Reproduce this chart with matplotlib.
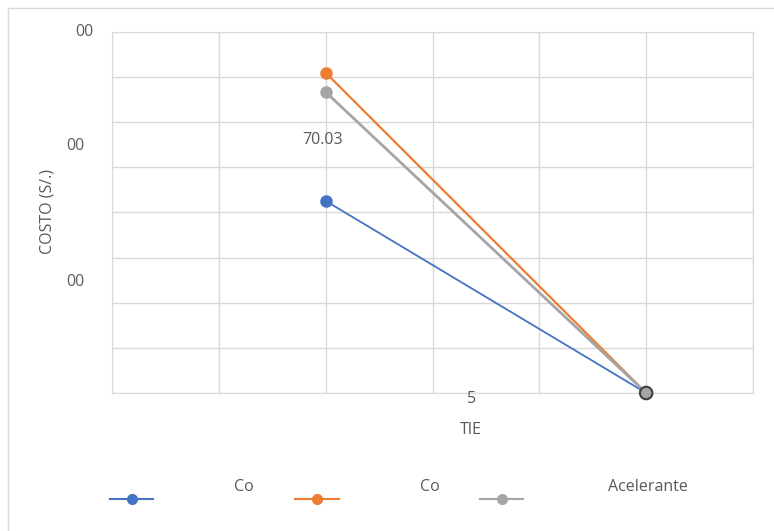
import matplotlib.pyplot as plt
import matplotlib.patheffects as pe
from matplotlib.lines import Line2D
import numpy as np

plt.rcParams['font.family'] = ['Open Sans', 'DejaVu Sans']

# data
x_pos = [2, 5]
serie_1 = [42.0, 0.0]
serie_2 = [70.03, 0.0]
serie_3 = [65.8, 0.0]
colors = ['#4472C4', '#ED7D31', '#A5A5A5']
names = ['Co', 'Co', 'Acelerante']
y_ticklabels = ['00', '00', '00']

W, H = 774, 531
fig = plt.figure(figsize=(W / 100, H / 100), dpi=100)


def px(x, y):
    return x / W, 1 - y / H


ax = fig.add_axes([112 / W, 1 - 393 / H, 641 / W, 361.3 / H])
ax.set_xlim(0, 6)
ax.set_ylim(0, 79)
ax.set_xticks(np.arange(0, 7))
ax.set_yticks(np.linspace(0, 79, 9))
ax.grid(True, color='#D9D9D9', lw=1)
ax.tick_params(length=0, labelbottom=False, labelleft=False)
for s in ax.spines.values():
    s.set_color('#D9D9D9')
ax.set_axisbelow(True)

txt = '#595959'
fs = 11.5
widths = [1.3, 1.6, 2.0]
for ys, c, lw, z in zip([serie_1, serie_2, serie_3], colors, widths, [3, 4, 5]):
    ax.plot(x_pos, ys, color=c, lw=lw, marker='o', ms=8, mfc=c,
            mec=c, mew=1, zorder=z, clip_on=False)
# shared end point
ax.plot([x_pos[1]], [0], marker='o', ms=9, mfc='#A5A5A5', mec='#404040',
        mew=1.5, zorder=6, clip_on=False,
        path_effects=[pe.withSimplePatchShadow(offset=(0, 0), shadow_rgbFace='black', alpha=0.4)])

# value label
fig.text(*px(323, 140), '70.03', ha='center', va='center', fontsize=fs, color=txt)

# axis texts
for (tx, ty), lab in zip([(84, 32), (75, 146), (75, 282)], y_ticklabels):
    fig.text(*px(tx, ty), lab, ha='center', va='center', fontsize=fs, color=txt)
fig.text(*px(472, 399), '5', ha='center', va='center', fontsize=fs, color=txt)
fig.text(*px(471, 430), 'TIE', ha='center', va='center', fontsize=fs, color=txt)
fig.text(*px(48, 212), 'COSTO (S/.)', ha='center', va='center', rotation=90,
         fontsize=fs, color=txt)

# legend
handles_x = [(110, 153), (295, 339), (480, 523)]
labels_x = [244, 430, 648]
for (x0, x1), lx, c, name in zip(handles_x, labels_x, colors, names):
    a, yy = px(x0, 499)
    b, _ = px(x1, 499)
    fig.add_artist(Line2D([a, b], [yy, yy], color=c, lw=1.5,
                          transform=fig.transFigure))
    fig.add_artist(Line2D([(a + b) / 2], [yy], color=c, marker='o', ms=7,
                          transform=fig.transFigure))
    fig.text(*px(lx, 487), name, ha='center', va='center', fontsize=fs, color=txt)

# chart border
fig.add_artist(Line2D([8 / W, 1], [1 - 8 / H, 1 - 8 / H], color='#D9D9D9', lw=1,
                      transform=fig.transFigure))
fig.add_artist(Line2D([8 / W, 8 / W], [0, 1 - 8 / H], color='#D9D9D9', lw=1,
                      transform=fig.transFigure))

fig.savefig('out.png', dpi=100)
